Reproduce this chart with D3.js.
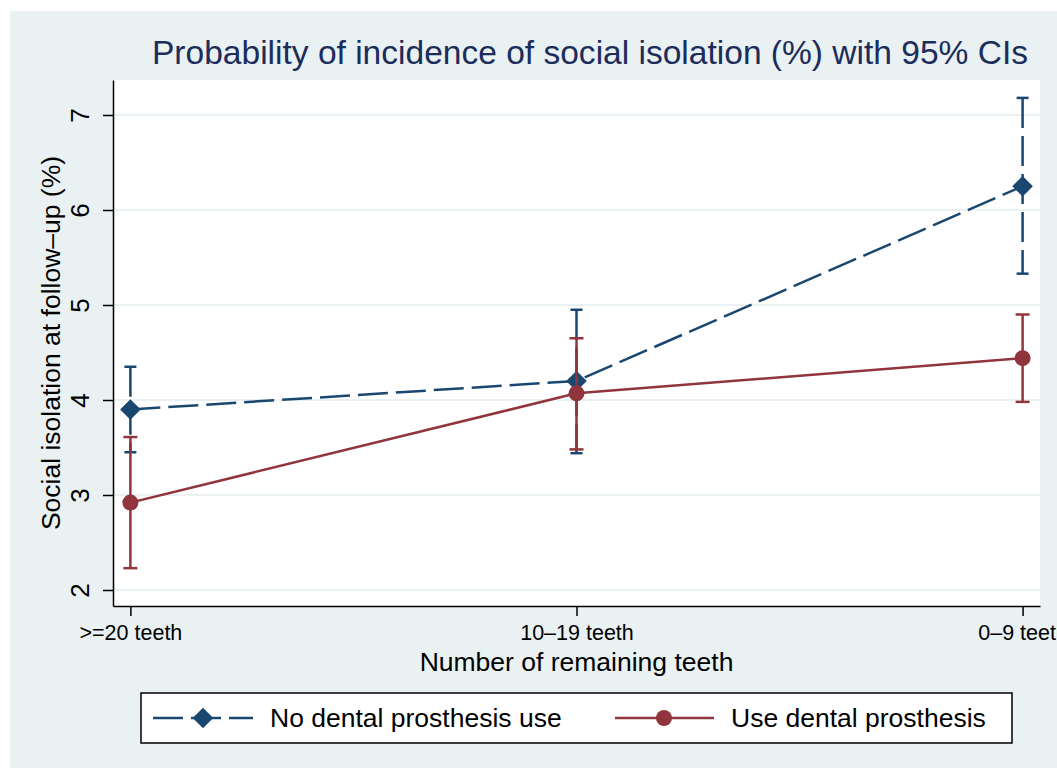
<!DOCTYPE html>
<html>
<head>
<meta charset="utf-8">
<script src="https://cdn.jsdelivr.net/npm/d3@7"></script>
<style>
  body { margin: 0; background: #ffffff; }
  text { font-family: "Liberation Sans", Arial, Helvetica, sans-serif; }
</style>
</head>
<body>
<div id="chart"></div>
<script>
// values
const categories = [">=20 teeth", "10–19 teeth", "0–9 teeth"];
const noProsthesis = [3.90, 4.20, 6.25];
const noProsthesisLo = [3.45, 3.44, 5.33];
const noProsthesisHi = [4.35, 4.95, 7.18];
const prosthesis = [2.92, 4.07, 4.44];
const prosthesisLo = [2.23, 3.48, 3.98];
const prosthesisHi = [3.61, 4.65, 4.90];
const yTicks = [2, 3, 4, 5, 6, 7];
const seriesNames = ["No dental prosthesis use", "Use dental prosthesis"];

const width = 1057;
const height = 771;
const plotLeft = 113;
const plotRight = 1040;
const plotTop = 80;
const plotBottom = 606;

const blue = "#1a476f";
const red = "#90353b";
const bg = "#e9f1f3";

let svg = d3.select("#chart")
    .append("svg")
    .attr("width", width)
    .attr("height", height)
    .attr("viewBox", [0, 0, width, height]);

// outer graph region
svg.append("rect")
    .attr("x", 10).attr("y", 11)
    .attr("width", width - 10).attr("height", 757)
    .attr("fill", bg);

// plot region
svg.append("rect")
    .attr("x", plotLeft).attr("y", plotTop)
    .attr("width", plotRight - plotLeft).attr("height", plotBottom - plotTop)
    .attr("fill", "#ffffff");

const x = d3.scalePoint(categories, [plotLeft, plotRight]).padding(0.039);
const y = d3.scaleLinear([2 - 16 / 95, 7 + 35 / 95], [plotBottom, plotTop]);

// grid lines
svg.append("g")
    .selectAll("line")
    .data(yTicks)
    .join("line")
    .attr("x1", plotLeft).attr("x2", plotRight)
    .attr("y1", d => y(d)).attr("y2", d => y(d))
    .attr("stroke", bg)
    .attr("stroke-width", 2);

// y axis, labels turned like stata does
let yAxis = svg.append("g")
    .attr("transform", `translate(${plotLeft},0)`)
    .call(d3.axisLeft(y).tickValues(yTicks).tickSize(10).tickSizeOuter(0).tickFormat(d3.format("d")));
yAxis.select(".domain").attr("stroke", "#000").attr("stroke-width", 1.5);
yAxis.selectAll(".tick line").attr("stroke", "#000").attr("stroke-width", 1.5);
yAxis.selectAll(".tick text")
    .attr("x", 0).attr("y", 0).attr("dy", null)
    .attr("transform", "translate(-24,0) rotate(-90)")
    .attr("text-anchor", "middle")
    .attr("font-size", 26)
    .attr("fill", "#000");

// x axis
let xAxis = svg.append("g")
    .attr("transform", `translate(0,${plotBottom})`)
    .call(d3.axisBottom(x).tickSize(10).tickSizeOuter(0));
xAxis.select(".domain").attr("stroke", "#000").attr("stroke-width", 1.5);
xAxis.selectAll(".tick line").attr("stroke", "#000").attr("stroke-width", 1.5);
xAxis.selectAll(".tick text")
    .attr("y", 34).attr("dy", null)
    .attr("font-size", 21.5)
    .attr("fill", "#000");

// titles
svg.append("text")
    .attr("x", 152).attr("y", 64)
    .attr("font-size", 33)
    .attr("fill", "#1c2d5c")
    .attr("textLength", 876)
    .attr("lengthAdjust", "spacingAndGlyphs")
    .text("Probability of incidence of social isolation (%) with 95% CIs");

svg.append("text")
    .attr("transform", `translate(60,${(plotTop + plotBottom) / 2}) rotate(-90)`)
    .attr("text-anchor", "middle")
    .attr("font-size", 26.5)
    .attr("fill", "#000")
    .text("Social isolation at follow–up (%)");

svg.append("text")
    .attr("x", (plotLeft + plotRight) / 2).attr("y", 671)
    .attr("text-anchor", "middle")
    .attr("font-size", 26.5)
    .attr("fill", "#000")
    .text("Number of remaining teeth");

const diamond = d3.symbol().type(d3.symbolDiamond2).size(270);

function drawCI(lo, hi, color, dash, capW) {
    let g = svg.append("g").attr("stroke", color).attr("stroke-width", 2.5).attr("fill", "none");
    categories.forEach((c, i) => {
        g.append("line")
            .attr("x1", x(c)).attr("x2", x(c))
            .attr("y1", y(hi[i])).attr("y2", y(lo[i]))
            .attr("stroke-dasharray", dash);
        [lo[i], hi[i]].forEach(v => {
            g.append("line")
                .attr("x1", x(c) - capW / 2).attr("x2", x(c) + capW / 2)
                .attr("y1", y(v)).attr("y2", y(v));
        });
    });
}

function drawSeries(vals, color, dash, marker) {
    let line = d3.line()
        .x((d, i) => x(categories[i]))
        .y(d => y(d));
    svg.append("path")
        .attr("d", line(vals))
        .attr("fill", "none")
        .attr("stroke", color)
        .attr("stroke-width", 2.5)
        .attr("stroke-dasharray", dash);
    vals.forEach((v, i) => {
        if (marker === "diamond") {
            svg.append("path")
                .attr("d", diamond())
                .attr("transform", `translate(${x(categories[i])},${y(v)})`)
                .attr("fill", color);
        } else {
            svg.append("circle")
                .attr("cx", x(categories[i])).attr("cy", y(v))
                .attr("r", 8)
                .attr("fill", color);
        }
    });
}

drawCI(noProsthesisLo, noProsthesisHi, blue, "30,8", 12);
drawSeries(noProsthesis, blue, "30,8", "diamond");
drawCI(prosthesisLo, prosthesisHi, red, null, 14);
drawSeries(prosthesis, red, null, "circle");

// legend
let legend = svg.append("g");
legend.append("rect")
    .attr("x", 141).attr("y", 693)
    .attr("width", 871).attr("height", 50)
    .attr("fill", "#fff")
    .attr("stroke", "#000")
    .attr("stroke-width", 1.5);

legend.append("line")
    .attr("x1", 153).attr("x2", 253).attr("y1", 718).attr("y2", 718)
    .attr("stroke", blue).attr("stroke-width", 2.5)
    .attr("stroke-dasharray", "30,8");
legend.append("path")
    .attr("d", diamond())
    .attr("transform", "translate(203,718)")
    .attr("fill", blue);
legend.append("text")
    .attr("x", 270).attr("y", 727)
    .attr("font-size", 26.5)
    .text(seriesNames[0]);

legend.append("line")
    .attr("x1", 615).attr("x2", 714).attr("y1", 718).attr("y2", 718)
    .attr("stroke", red).attr("stroke-width", 2.5);
legend.append("circle")
    .attr("cx", 664).attr("cy", 718).attr("r", 8)
    .attr("fill", red);
legend.append("text")
    .attr("x", 731).attr("y", 727)
    .attr("font-size", 26.5)
    .text(seriesNames[1]);
</script>
</body>
</html>
